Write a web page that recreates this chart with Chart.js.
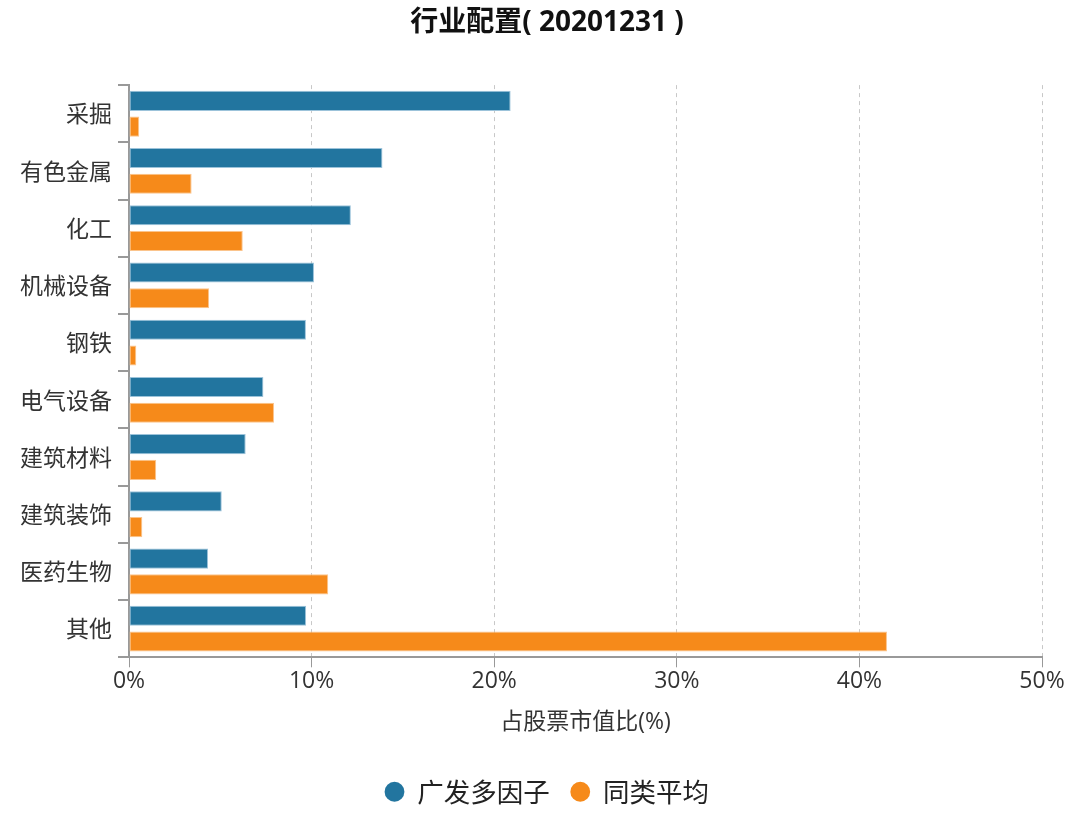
<!DOCTYPE html>
<html>
<head>
<meta charset="utf-8">
<script src="https://cdn.jsdelivr.net/npm/chart.js@4"></script>
<style>
html,body{margin:0;padding:0;background:#fff;}
#wrap{width:1080px;height:824px;position:relative;}
</style>
</head>
<body>
<div id="wrap"><canvas id="c" width="1080" height="824"></canvas></div>
<script>
const categories = ['采掘','有色金属','化工','机械设备','钢铁','电气设备','建筑材料','建筑装饰','医药生物','其他'];
const gfValues = [20.9, 13.88, 12.15, 10.13, 9.69, 7.36, 6.39, 5.08, 4.33, 9.70];
const avgValues = [0.56, 3.43, 6.23, 4.39, 0.40, 7.94, 1.49, 0.73, 10.91, 41.51];
const xTicks = [0, 10, 20, 30, 40, 50];
const seriesNames = ['广发多因子', '同类平均'];
const titleText = '行业配置( 20201231 )';
const xTitle = '占股票市值比(%)';

const CJK = '"Noto Sans CJK SC", "Noto Sans", sans-serif';
const MIX = '"Open Sans", "Noto Sans CJK SC", sans-serif';

// shift title and legend horizontally so they are centred like the reference
const centerShift = {
  id: 'centerShift',
  afterLayout(chart) {
    const dx = 26;
    [chart.titleBlock, chart.legend].forEach(b => { if (b) { b.left += dx; b.right += dx; } });
  }
};

new Chart(document.getElementById('c'), {
  type: 'bar',
  data: {
    labels: categories,
    datasets: [
      { label: seriesNames[0], data: gfValues, backgroundColor: '#22759f', borderColor: '#9cc3da', borderWidth: 1, borderSkipped: false,
        categoryPercentage: 0.9, barPercentage: 0.78 },
      { label: seriesNames[1], data: avgValues, backgroundColor: '#f68a1a', borderColor: '#fbc48c', borderWidth: 1, borderSkipped: false,
        categoryPercentage: 0.9, barPercentage: 0.78 }
    ]
  },
  plugins: [centerShift],
  options: {
    indexAxis: 'y',
    responsive: false,
    animation: false,
    layout: { padding: { left: 0, right: 38, top: 0, bottom: 9 } },
    plugins: {
      title: { display: true, text: titleText, color: '#111', font: { family: MIX, size: 28, weight: 'bold' }, padding: { top: 6, bottom: 45.5 } },
      legend: {
        position: 'bottom',
        labels: {
          usePointStyle: true, pointStyle: 'circle', boxWidth: 19, boxHeight: 14, color: '#222',
          font: { family: CJK, size: 26.5 }, padding: 21,
          generateLabels: (chart) => Chart.defaults.plugins.legend.labels.generateLabels(chart).map(l => Object.assign(l, { lineWidth: 0, strokeStyle: 'rgba(0,0,0,0)' }))
        }
      },
      tooltip: { enabled: false }
    },
    scales: {
      x: {
        min: 0, max: 50,
        afterBuildTicks: (s) => { s.ticks = xTicks.map(v => ({ value: v })); },
        ticks: { callback: (v) => v + '%', color: '#333', font: { family: MIX, size: 23 }, padding: 0 },
        grid: { color: '#c8c8c8', tickColor: '#999', tickLength: 10, lineWidth: 1, tickBorderDash: [] },
        border: { display: true, color: '#999', width: 2, dash: [4, 4] },
        title: { display: true, text: xTitle, color: '#333', font: { family: MIX, size: 23 }, padding: { top: 14, bottom: 21 } }
      },
      y: {
        afterFit: (s) => { s.width = 129; },
        ticks: { color: '#333', font: { family: CJK, size: 23 }, padding: 6 },
        grid: { drawOnChartArea: false, drawTicks: true, tickLength: 11, color: '#999', tickColor: '#999', lineWidth: 2 },
        border: { display: true, color: '#999', width: 2 }
      }
    }
  }
});
</script>
</body>
</html>
